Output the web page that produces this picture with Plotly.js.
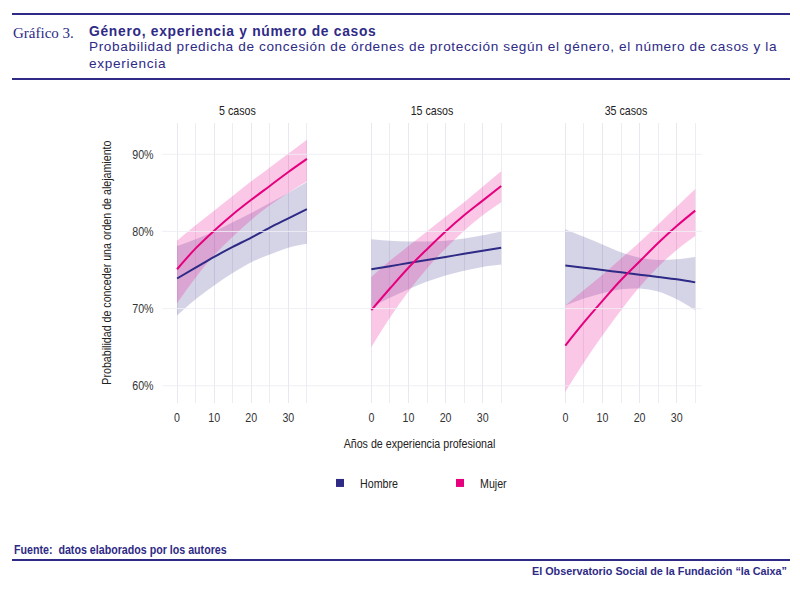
<!DOCTYPE html>
<html>
<head>
<meta charset="utf-8">
<script src="https://cdn.plot.ly/plotly-3.0.1.min.js"></script>
<style>
html,body{margin:0;padding:0;background:#fff;}
#chart{width:800px;height:591px;}
</style>
</head>
<body>
<div id="chart"></div>
<script>
// ---- data (percent) ----
const years = [0, 5, 10, 15, 20, 25, 30, 35];
const panels = ["5 casos", "15 casos", "35 casos"];
const seriesNames = ["Hombre", "Mujer"];

// 5 casos
const h5 = [73.9, 75.3, 76.7, 78.0, 79.2, 80.5, 81.7, 82.9];
const h5hi = [78.1, 79.0, 80.0, 81.2, 82.4, 83.7, 85.0, 86.4];
const h5lo = [69.1, 71.2, 73.0, 74.6, 76.0, 77.0, 77.9, 78.4];
const m5 = [75.1, 77.8, 80.1, 82.2, 84.1, 85.9, 87.7, 89.4];
const m5hi = [78.8, 80.8, 82.7, 84.6, 86.5, 88.3, 90.1, 91.9];
const m5lo = [70.7, 74.0, 76.9, 79.3, 81.5, 83.4, 85.0, 86.5];

// 15 casos
const h15 = [75.1, 75.5, 75.9, 76.3, 76.7, 77.1, 77.5, 77.9];
const h15hi = [79.0, 78.8, 78.7, 78.7, 78.8, 79.1, 79.5, 80.0];
const h15lo = [70.2, 71.4, 72.5, 73.5, 74.3, 74.9, 75.4, 75.7];
const m15 = [69.8, 72.6, 75.3, 77.7, 80.0, 82.1, 84.0, 85.9];
const m15hi = [74.1, 76.2, 78.1, 80.0, 81.9, 83.8, 85.8, 87.8];
const m15lo = [65.0, 68.8, 72.2, 75.2, 77.8, 80.1, 82.1, 83.8];

// 35 casos
const h35 = [75.6, 75.3, 75.0, 74.7, 74.4, 74.1, 73.8, 73.4];
const h35hi = [80.3, 79.3, 78.3, 77.3, 76.6, 76.3, 76.4, 76.7];
const h35lo = [70.4, 71.3, 72.0, 72.5, 72.6, 72.2, 71.2, 69.8];
const m35 = [65.2, 68.2, 71.0, 73.7, 76.1, 78.5, 80.7, 82.7];
const m35hi = [70.4, 72.4, 74.4, 76.5, 78.6, 80.9, 83.2, 85.5];
const m35lo = [59.2, 63.0, 66.5, 69.8, 72.8, 75.4, 77.6, 79.4];

const xTicks = [0, 10, 20, 30];
const yTicks = [60, 70, 80, 90];
const yTickText = yTicks.map(v => v + "%");

// ---- styling ----
const NAVY = "#2e2a86";
const MAG = "#e6007e";
const NAVY_BAND = "rgba(46,42,134,0.20)";
const MAG_BAND = "rgba(236,0,140,0.22)";
// narrow texts: Liberation Sans horizontally condensed after rendering
const NARROW = "'Liberation Sans', 'Arial Narrow', Arial, sans-serif";
// header texts: Liberation Sans with slightly opened tracking after rendering
const WIDE = "'Liberation Sans', Helvetica, Arial, sans-serif";
const SANS = "'Liberation Sans', Arial, sans-serif";
const SERIF = "'Liberation Serif', 'DejaVu Serif', serif";
const CONDENSE = 0.82;
const TRACK = 1.10;

const panelData = [
  {h: h5, hhi: h5hi, hlo: h5lo, m: m5, mhi: m5hi, mlo: m5lo},
  {h: h15, hhi: h15hi, hlo: h15lo, m: m15, mhi: m15hi, mlo: m15lo},
  {h: h35, hhi: h35hi, hlo: h35lo, m: m35, mhi: m35hi, mlo: m35lo}
];
const axisIds = ["x", "x2", "x3"];

const traces = [];
panelData.forEach((p, i) => {
  const xa = axisIds[i];
  traces.push({x: years, y: p.hlo, xaxis: xa, yaxis: "y", mode: "lines", line: {width: 0, shape: "spline"}, hoverinfo: "skip", showlegend: false});
  traces.push({x: years, y: p.hhi, xaxis: xa, yaxis: "y", mode: "lines", line: {width: 0, shape: "spline"}, fill: "tonexty", fillcolor: NAVY_BAND, hoverinfo: "skip", showlegend: false});
  traces.push({x: years, y: p.mlo, xaxis: xa, yaxis: "y", mode: "lines", line: {width: 0, shape: "spline"}, hoverinfo: "skip", showlegend: false});
  traces.push({x: years, y: p.mhi, xaxis: xa, yaxis: "y", mode: "lines", line: {width: 0, shape: "spline"}, fill: "tonexty", fillcolor: MAG_BAND, hoverinfo: "skip", showlegend: false});
});
panelData.forEach((p, i) => {
  const xa = axisIds[i];
  traces.push({x: years, y: p.h, xaxis: xa, yaxis: "y", mode: "lines", line: {color: NAVY, width: 2, shape: "spline"}, showlegend: false});
  traces.push({x: years, y: p.m, xaxis: xa, yaxis: "y", mode: "lines", line: {color: MAG, width: 2, shape: "spline"}, showlegend: false});
});
[NAVY, MAG].forEach((c, k) => {
  traces.push({x: [null], y: [null], xaxis: "x", yaxis: "y", mode: "markers", name: seriesNames[k],
    marker: {symbol: "square", size: 8, color: c}, showlegend: true});
});

const W = 800, H = 591;
const px = v => v / W;
const py = v => (H - v) / H;

const xDomains = [[px(162.2), px(313.6)], [px(356.5), px(507.9)], [px(550.5), px(701.9)]];

function xAxis(i) {
  return {
    domain: xDomains[i],
    range: [-4, 36.8],
    anchor: "y",
    tickmode: "array",
    tickvals: xTicks,
    ticks: "outside", ticklen: 2, tickcolor: "rgba(0,0,0,0)",
    showgrid: true, gridcolor: "#e9e7f0", gridwidth: 1,
    minor: {tick0: 5, dtick: 10, showgrid: true, gridcolor: "#edecf3", gridwidth: 1, ticks: ""},
    zeroline: false, showline: false,
    tickfont: {family: NARROW, size: 13, color: "#333"},
    fixedrange: true
  };
}

const annotations = [];
panels.forEach((t, i) => {
  annotations.push({text: t, x: (xDomains[i][0] + xDomains[i][1]) / 2, y: py(110), xref: "paper", yref: "paper",
    xanchor: "center", yanchor: "middle", showarrow: false, font: {family: NARROW, size: 13, color: "#222"}});
});
annotations.push({text: "Probabilidad de conceder una orden de alejamiento", x: px(105.5), y: py(263), xref: "paper", yref: "paper",
  textangle: -90, xanchor: "center", yanchor: "middle", showarrow: false, font: {family: NARROW, size: 13, color: "#222"}});
annotations.push({text: "Años de experiencia profesional", x: px(419), y: py(443), xref: "paper", yref: "paper",
  xanchor: "center", yanchor: "middle", showarrow: false, font: {family: NARROW, size: 13, color: "#222"}});
// header
annotations.push({text: "Gráfico 3.", x: px(11), y: py(33), xref: "paper", yref: "paper", xanchor: "left", yanchor: "middle", align: "left",
  showarrow: false, font: {family: SERIF, size: 15, color: NAVY}});
annotations.push({text: "Género, experiencia y número de casos", x: px(87), y: py(31.5), xref: "paper", yref: "paper", xanchor: "left", yanchor: "middle", align: "left",
  showarrow: false, font: {family: WIDE, size: 13.8, weight: "bold", color: NAVY}});
annotations.push({text: "Probabilidad predicha de concesión de órdenes de protección según el género, el número de casos y la", x: px(87), y: py(46.5), xref: "paper", yref: "paper", xanchor: "left", yanchor: "middle", align: "left",
  showarrow: false, font: {family: WIDE, size: 13.6, color: NAVY}});
annotations.push({text: "experiencia", x: px(87), y: py(64), xref: "paper", yref: "paper", xanchor: "left", yanchor: "middle", align: "left",
  showarrow: false, font: {family: WIDE, size: 13.6, color: NAVY}});
// footer
annotations.push({text: "Fuente:  datos elaborados por los autores", x: px(12), y: py(549), xref: "paper", yref: "paper", xanchor: "left", yanchor: "middle", align: "left",
  showarrow: false, font: {family: NARROW, size: 13, weight: "bold", color: NAVY}});
annotations.push({text: "El Observatorio Social de la Fundación “la Caixa”", x: px(789), y: py(571), xref: "paper", yref: "paper", xanchor: "right", yanchor: "middle", align: "right",
  showarrow: false, font: {family: SANS, size: 10.8, weight: "bold", color: NAVY}});

const shapes = [];
yTicks.forEach(v => {
  shapes.push({type: "line", xref: "paper", yref: "y", x0: xDomains[0][0], x1: xDomains[2][1], y0: v, y1: v,
    line: {color: "rgba(238,237,244,0.9)", width: 1}, layer: "above"});
});
[14, 79, 560].forEach(yy => {
  shapes.push({type: "line", xref: "paper", yref: "paper", x0: px(12), x1: px(790), y0: py(yy), y1: py(yy),
    line: {color: NAVY, width: 2}});
});

const layout = {
  width: W, height: H,
  margin: {l: 0, r: 0, t: 0, b: 0, pad: 0},
  paper_bgcolor: "#fff", plot_bgcolor: "rgba(0,0,0,0)",
  showlegend: true,
  legend: {orientation: "h", traceorder: "normal", x: px(320), y: py(483), xanchor: "left", yanchor: "middle",
    entrywidth: 75, entrywidthmode: "pixels", itemwidth: 30,
    font: {family: NARROW, size: 13, color: "#222"}, bgcolor: "rgba(0,0,0,0)"},
  xaxis: xAxis(0), xaxis2: xAxis(1), xaxis3: xAxis(2),
  yaxis: {
    domain: [py(403), py(123)],
    range: [57.76, 94.06],
    anchor: "x",
    tickmode: "array", tickvals: yTicks, ticktext: yTickText,
    ticks: "outside", ticklen: 5, tickcolor: "rgba(0,0,0,0)",
    showgrid: false, zeroline: false, showline: false,
    tickfont: {family: NARROW, size: 13, color: "#333"},
    fixedrange: true
  },
  annotations: annotations,
  shapes: shapes
};

Plotly.newPlot("chart", traces, layout, {displayModeBar: false, staticPlot: true}).then(gd => {
  gd.querySelectorAll("text").forEach(t => {
    const ff = t.style.fontFamily || t.getAttribute("font-family") || "";
    const L = t.getComputedTextLength();
    if (!(L > 0)) return;
    if (ff.indexOf("Arial Narrow") >= 0) {
      t.setAttribute("textLength", (L * CONDENSE).toFixed(2));
      t.setAttribute("lengthAdjust", "spacingAndGlyphs");
    } else if (ff.indexOf("Helvetica") >= 0) {
      t.setAttribute("textLength", (L * TRACK).toFixed(2));
      t.setAttribute("lengthAdjust", "spacing");
    }
  });
});
</script>
</body>
</html>
